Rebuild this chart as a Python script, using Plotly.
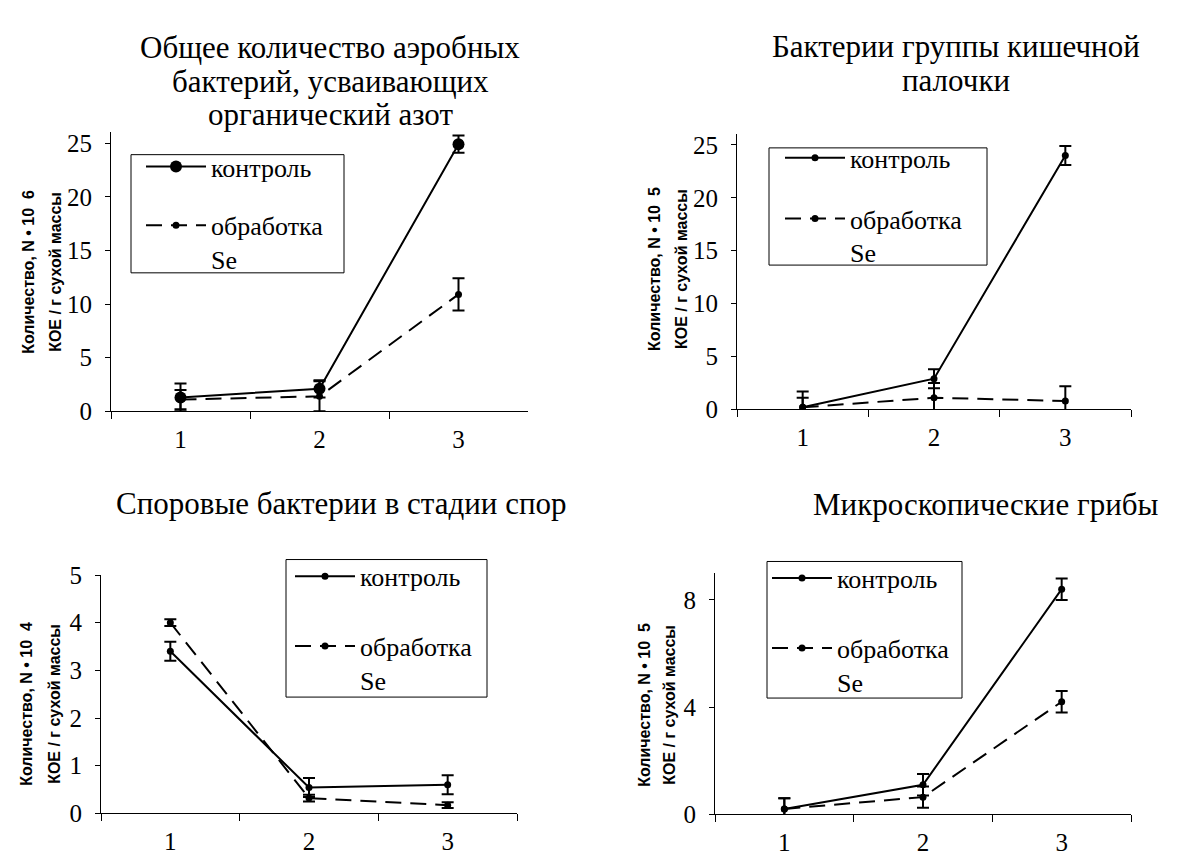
import plotly.graph_objects as go

categories = ["1", "2", "3"]

title_lines = [
    ["Общее количество аэробных", "бактерий, усваивающих", "органический азот"],
    ["Бактерии группы кишечной", "палочки"],
    ["Споровые бактерии в стадии спор"],
    ["Микроскопические грибы"],
]
ytitle_line1 = ["Количество, N • 10  6", "Количество, N • 10  5", "Количество, N • 10  4", "Количество, N • 10  5"]
ytitle_line2 = "КОЕ / г сухой массы"
series_names = ["контроль", "обработка<br>Se"]

# panel values
control = [
    [1.3, 2.1, 24.9],
    [0.2, 2.9, 24.0],
    [3.4, 0.54, 0.6],
    [0.2, 1.1, 8.4],
]
control_err = [
    [1.3, 0.8, 0.8],
    [0.9, 0.9, 0.9],
    [0.2, 0.2, 0.2],
    [0.4, 0.4, 0.4],
]
treatment = [
    [1.1, 1.4, 10.9],
    [0.2, 1.1, 0.8],
    [4.0, 0.32, 0.17],
    [0.2, 0.64, 4.2],
]
treatment_err = [
    [0.9, 1.4, 1.5],
    [1.5, 1.4, 1.4],
    [0.07, 0.07, 0.06],
    [0.4, 0.4, 0.4],
]
y_ranges = [[0, 26], [0, 26], [0, 5], [0, 9]]
y_dticks = [5, 5, 1, 4]

W, H = 1192, 860
# pixel layout (left, right, top, bottom) of each plot area
areas = [
    (103, 520, 115, 403),
    (729, 1123, 117, 401),
    (93, 509, 572, 818),
    (707, 1123, 570, 819),
]
legend_boxes = [(123, 138, 336, 260), (761, 131, 979, 252), (278, 556, 479, 698), (759, 558, 954, 699)]
legend_anchor = [(133, 126), (772, 117), (282, 549), (759, 551)]
legend_gap = [22, 24, 33, 33]
title_x = [322, 948, 333, 978]
title_y = [[27, 62, 97], [26, 61], [498], [499]]
ytitle_x = [(21, 48), (647, 674), (19, 47), (637, 662)]
ytitle_y = [259, 256, 705, 706]

serif = "Liberation Serif"
sans = "Liberation Sans"

fig = go.Figure()
annotations = []
shapes = []
for i in range(4):
    suffix = "" if i == 0 else str(i + 1)
    xa, ya = "x" + suffix, "y" + suffix
    leg = "legend" + suffix
    csize = 12 if i == 0 else 7
    fig.add_trace(go.Scatter(
        x=categories, y=control[i], xaxis=xa, yaxis=ya, name=series_names[0],
        mode="lines+markers", legend=leg, legendgroup=f"c{i}",
        line=dict(color="black", width=2),
        marker=dict(color="black", size=csize),
        error_y=dict(type="data", array=control_err[i], color="black", thickness=2, width=6),
    ))
    fig.add_trace(go.Scatter(
        x=categories, y=treatment[i], xaxis=xa, yaxis=ya, name=series_names[1],
        mode="lines+markers", legend=leg, legendgroup=f"t{i}",
        line=dict(color="black", width=2, dash="16px,9px"),
        marker=dict(color="black", size=7),
        error_y=dict(type="data", array=treatment_err[i], color="black", thickness=2, width=6),
    ))
    l, r, t, b = areas[i]
    fig.update_layout(**{
        "xaxis" + suffix: dict(
            domain=[l / W, r / W], anchor=ya, type="category", range=[-0.5, 2.5],
            showline=True, linecolor="black", linewidth=1, showgrid=False, zeroline=False,
            ticks="outside", tickson="boundaries", ticklen=7, tickcolor="black",
            tickfont=dict(family=serif, size=25, color="black"), ticklabelstandoff=6,
        ),
        "yaxis" + suffix: dict(
            domain=[(H - b) / H, (H - t) / H], anchor=xa, range=y_ranges[i], dtick=y_dticks[i],
            showline=True, linecolor="black", linewidth=1, showgrid=False, zeroline=False,
            ticks="outside", ticklen=5, tickcolor="black",
            tickfont=dict(family=serif, size=25, color="black"), ticklabelstandoff=8,
        ),
        leg: dict(
            x=legend_anchor[i][0] / W, y=(H - legend_anchor[i][1]) / H, xanchor="left", yanchor="top",
            bgcolor="rgba(0,0,0,0)", borderwidth=0,
            font=dict(family=serif, size=26, color="black"),
            itemwidth=60, traceorder="grouped", tracegroupgap=legend_gap[i], valign="top",
        ),
    })
    bx0, by0, bx1, by1 = legend_boxes[i]
    shapes.append(dict(
        type="rect", xref="paper", yref="paper", x0=bx0 / W, x1=bx1 / W,
        y0=(H - by1) / H, y1=(H - by0) / H, line=dict(color="black", width=1),
        fillcolor="white", layer="above",
    ))
    for line_text, ty in zip(title_lines[i], title_y[i]):
        annotations.append(dict(
            text=line_text, x=title_x[i] / W, y=(H - ty) / H,
            xref="paper", yref="paper", showarrow=False, xanchor="center", yanchor="middle",
            font=dict(family=serif, size=31, color="black"),
        ))
    yc = (H - ytitle_y[i]) / H
    for j, txt in enumerate([ytitle_line1[i], ytitle_line2]):
        annotations.append(dict(
            text="<b>" + txt + "</b>", x=ytitle_x[i][j] / W, y=yc,
            xref="paper", yref="paper", showarrow=False, xanchor="center", yanchor="middle",
            textangle=-90, font=dict(family=sans, size=16, color="black"),
        ))

fig.update_layout(
    width=W, height=H, margin=dict(l=0, r=0, t=0, b=0),
    paper_bgcolor="white", plot_bgcolor="white",
    annotations=annotations, shapes=shapes,
)
fig.write_html("out.html")
